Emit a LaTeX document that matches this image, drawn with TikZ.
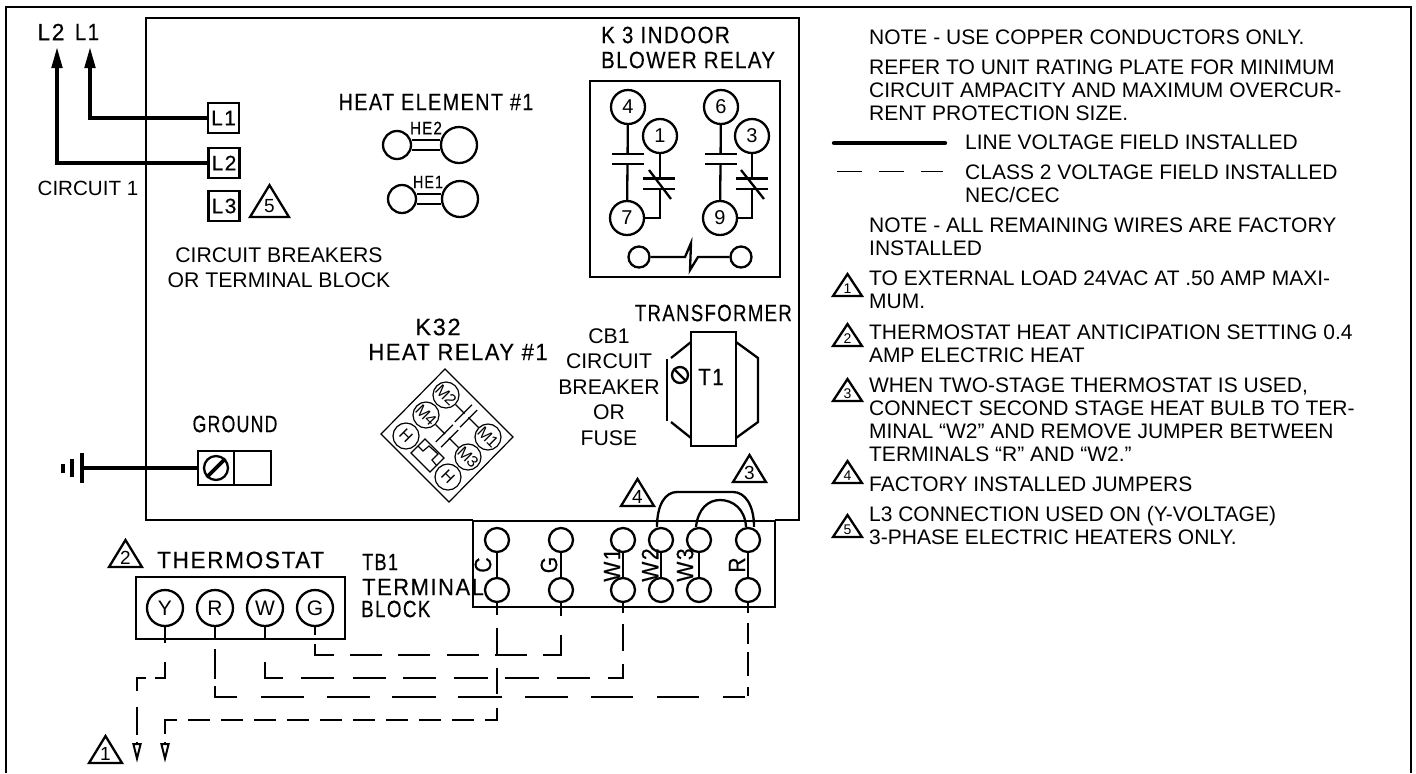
\documentclass[tikz,border=0pt]{standalone}
\usepackage{fontspec}
\setmainfont{Liberation Sans}
\newfontfamily\cadfont[LetterSpace=7,FakeBold=0.4]{Liberation Sans}
\newcommand{\cadfit}[2]{\scalebox{#1}[1]{#2}}
\usetikzlibrary{arrows.meta}
\begin{document}
\begin{tikzpicture}[
		x=0.5pt,y=-0.5pt,
		line width=1.15pt,
		notetext/.style={anchor=west,inner sep=0pt,align=left,font=\fontsize{10.5}{11.5}\selectfont},
		plaintext/.style={inner sep=0pt,align=center,font=\fontsize{10.6}{12.7}\selectfont},
		cadtext/.style={inner sep=0pt,font=\cadfont\fontsize{11.8}{12}\selectfont},
		cadsmall/.style={inner sep=0pt,font=\cadfont\fontsize{9}{10}\selectfont},
		termbox/.style={draw,minimum width=15.5pt,minimum height=15pt,inner sep=0pt,font=\cadfont\fontsize{10.5}{11}\selectfont},
		relaypin/.style={circle,draw,minimum size=17pt,inner sep=0pt,font=\fontsize{10}{11}\selectfont},
		statpin/.style={circle,draw,minimum size=18pt,inner sep=0pt,font=\fontsize{10.5}{11}\selectfont},
		blockpin/.style={circle,draw,minimum size=12pt,inner sep=0pt},
		heatpin/.style={circle,draw,inner sep=0pt},
		minipin/.style={circle,draw,line width=0.6pt,minimum size=13pt,inner sep=0pt,font=\fontsize{8}{8}\selectfont},
		contactgap/.style={fill=white,inner sep=0pt,minimum width=14.5pt,minimum height=4pt},
		minigap/.style={fill=white,inner sep=0pt,minimum width=11pt,minimum height=2.6pt,rotate=45},
		linewire/.style={line width=2.2pt},
		fieldwire/.style={line width=1.1pt},
		arrowwire/.style={linewire,-{Triangle[length=11pt,width=5pt]}},
		opentip/.style={line width=1pt,-{Triangle[open,length=10pt,width=4.6pt]}},
		notemark/.pic={
				\draw[line join=miter] (-14.5,0) -- (0,-22) -- (14.5,0) -- cycle;
				\node[inner sep=0pt,font=\fontsize{7}{8}\selectfont] (-digit) at (0,-7.5) {#1};
			},
		largemark/.pic={
				\draw[line join=miter] (-16.5,0) -- (0,-27) -- (16.5,0) -- cycle;
				\node[inner sep=0pt,font=\fontsize{9.5}{10}\selectfont] (-digit) at (0,-9.5) {#1};
			}
	]
	\useasboundingbox (0,0) rectangle (1416,773);

	\coordinate (framesw) at (6,773);
	\coordinate (framenw) at (6,7);
	\coordinate (framene) at (1411,7);
	\coordinate (framese) at (1411,773);
	\draw (framesw) -- (framenw) -- (framene) -- (framese);

	\coordinate (boardblockl) at (473,520);
	\coordinate (boardsw) at (146,520);
	\coordinate (boardnw) at (146,18);
	\coordinate (boardne) at (799,18);
	\coordinate (boardse) at (799,520);
	\coordinate (boardblockr) at (775,520);
	\draw (boardblockl) -- (boardsw) -- (boardnw) -- (boardne) -- (boardse) -- (boardblockr);

	\node[cadtext] (labeltwo) at (51,32) {\cadfit{0.96}{L2}};
	\node[cadtext] (labelone) at (87,32) {\cadfit{0.87}{L1}};
	\coordinate (tiptwo) at (57,46);
	\coordinate (tipone) at (90,46);
	\node[termbox] (brkone) at (223.5,118) {L1};
	\node[termbox] (brktwo) at (224,163) {L2};
	\node[termbox] (brkthree) at (224,206) {L3};
	\draw[arrowwire] (brkone.west) -| (tipone);
	\draw[arrowwire] (brktwo.west) -| (tiptwo);
	\pic[scale=1.18] (markfive) at (269.5,217) {largemark=5};
	\node[plaintext,font=\fontsize{10.3}{12}\selectfont] (circuit) at (88,188) {CIRCUIT 1};
	\node[plaintext] (breakers) at (279,267.5) {CIRCUIT BREAKERS\\OR TERMINAL BLOCK};

	\node[cadtext] (heatelem) at (436,102) {\cadfit{0.84}{HEAT ELEMENT \#1}};
	\node[cadsmall] (hetwolabel) at (426,128) {\cadfit{0.85}{HE2}};
	\node[heatpin,minimum size=14pt] (hetwoa) at (397,145) {};
	\node[heatpin,minimum size=18pt] (hetwob) at (459,145) {};
	\draw ([yshift=2.5pt]hetwoa.east) -- ([yshift=2.5pt]hetwob.west);
	\draw ([yshift=-2.5pt]hetwoa.east) -- ([yshift=-2.5pt]hetwob.west);
	\node[cadsmall] (heonelabel) at (428,182) {\cadfit{0.8}{HE1}};
	\node[heatpin,minimum size=14pt] (heonea) at (402,199) {};
	\node[heatpin,minimum size=18pt] (heoneb) at (460,199) {};
	\draw ([yshift=2.5pt]heonea.east) -- ([yshift=2.5pt]heoneb.west);
	\draw ([yshift=-2.5pt]heonea.east) -- ([yshift=-2.5pt]heoneb.west);

	\node[cadtext,anchor=west] (blowerone) at (600,35) {\cadfit{0.87}{K 3 INDOOR}};
	\node[cadtext,anchor=west] (blowertwo) at (600,60) {\cadfit{0.865}{BLOWER RELAY}};
	\node[draw,minimum width=95pt,minimum height=98pt,inner sep=0pt] (relaybox) at (685,179) {};
	\node[relaypin] (pinfour) at (628,107) {4};
	\node[relaypin] (pinone) at (660,136) {1};
	\node[relaypin] (pinsix) at (721,107) {6};
	\node[relaypin] (pinthree) at (752,136) {3};
	\node[relaypin] (pinseven) at (627,218) {7};
	\node[relaypin] (pinnine) at (720,218) {9};
	\draw (pinfour) -- (pinseven);
	\draw (pinsix) -- (pinnine);
	\draw (pinone) |- (pinseven);
	\draw (pinthree) |- (pinnine);
	\foreach \gapname/\gapx/\gapy in {a/628/159,b/721/159,c/659/183.5,d/752/183.5}{
			\node[contactgap] (gap\gapname) at (\gapx,\gapy) {};
			\draw (gap\gapname.north west) -- (gap\gapname.north east);
			\draw (gap\gapname.south west) -- (gap\gapname.south east);
		}
	\coordinate (slashca) at (649,170);
	\coordinate (slashcb) at (671,199);
	\coordinate (slashda) at (741,170);
	\coordinate (slashdb) at (764,199);
	\draw (slashca) -- (slashcb);
	\draw (slashda) -- (slashdb);
	\node[circle,draw,minimum size=10.5pt,inner sep=0pt] (coilleft) at (639,257) {};
	\node[circle,draw,minimum size=10.5pt,inner sep=0pt] (coilright) at (741,257) {};
	\coordinate (coila) at (685,257);
	\coordinate (coilb) at (691,243);
	\coordinate (coilc) at (690,270);
	\coordinate (coild) at (698,257);
	\draw (coilleft) -- (coila) -- (coilb) -- (coilc) -- (coild) -- (coilright);

	\node[cadtext,anchor=east] (transformer) at (793,313) {\cadfit{0.79}{TRANSFORMER}};
	\node[plaintext] (cbone) at (609,387) {CB1\\CIRCUIT\\BREAKER\\OR\\FUSE};
	\node[draw,minimum width=22.5pt,minimum height=57pt,inner sep=0pt] (coretone) at (713.5,389) {};
	\node[cadtext] (tonelabel) at (711,377) {\cadfit{0.87}{T1}};
	\node[circle,draw,minimum size=8pt,inner sep=0pt] (corescrew) at (680,375) {};
	\draw (corescrew.135) -- (corescrew.-45);
	\coordinate (wingla) at (671,358);
	\coordinate (winglb) at (671,422);
	\coordinate (wingpa) at (667,359);
	\coordinate (wingpb) at (667,421);
	\coordinate (wingra) at (758,358);
	\coordinate (wingrb) at (758,422);
	\coordinate (corelt) at (691,342);
	\coordinate (corelb) at (691,438);
	\coordinate (corert) at (736,342);
	\coordinate (corerb) at (736,438);
	\draw (corelt) -- (wingla);
	\draw (wingpa) -- (wingpb);
	\draw (winglb) -- (corelb);
	\draw (corert) -- (wingra) -- (wingrb) -- (corerb);

	\node[cadtext] (kthirtytwo) at (438,327) {K32};
	\node[cadtext] (heatrelay) at (458,352) {\cadfit{0.93}{HEAT RELAY \#1}};
	\coordinate (diamondn) at (445,369);
	\coordinate (diamonde) at (513,437);
	\coordinate (diamonds) at (449,502);
	\coordinate (diamondw) at (381,434);
	\draw[line width=0.6pt] (diamondn) -- (diamonde) -- (diamonds) -- (diamondw) -- cycle;
	\node[minipin,rotate=-45] (mtwo) at (446,395) {M2};
	\node[minipin,rotate=-45] (mfour) at (426,415) {M4};
	\node[minipin,rotate=-45] (hone) at (406,436) {H};
	\node[minipin,rotate=-45] (mone) at (488,437) {M1};
	\node[minipin,rotate=-45] (mthree) at (468,457) {M3};
	\node[minipin,rotate=-45] (htwo) at (448,477) {H};
	\draw[line width=0.6pt] (mtwo) -- (mone);
	\draw[line width=0.6pt] (mfour) -- (mthree);
	\foreach \gapname/\gapx/\gapy in {e/466/416,f/447/436}{
			\node[minigap] (gap\gapname) at (\gapx,\gapy) {};
			\draw[line width=0.6pt] (gap\gapname.north west) -- (gap\gapname.north east);
			\draw[line width=0.6pt] (gap\gapname.south west) -- (gap\gapname.south east);
		}
	\coordinate (loopa) at (418,446);
	\coordinate (loopb) at (411,453);
	\coordinate (loopc) at (430,472);
	\coordinate (loopd) at (444,458);
	\coordinate (loope) at (425,439);
	\coordinate (loopf) at (423,451);
	\coordinate (loopg) at (429,446);
	\coordinate (looph) at (438,454);
	\coordinate (loopi) at (432,460);
	\coordinate (loopj) at (437,466);
	\draw[line width=0.6pt] (loopa) -- (loopb) -- (loopc) -- (loopd) -- (loope) -- (loopa);
	\draw[line width=0.6pt] (loopa) -- (loopf) -- (loopg) -- (looph) -- (loopi) -- (loopj);

	\pic (markfour) at (637.5,506) {largemark=4};
	\pic (markthree) at (749.5,482) {largemark=3};

	\node[cadtext] (ground) at (235,424) {\cadfit{0.75}{GROUND}};
	\node[draw,minimum width=18pt,minimum height=17pt,inner sep=0pt] (gndscrew) at (216,468) {};
	\node[draw,minimum width=18.5pt,minimum height=17pt,inner sep=0pt] (gndopen) at (252.5,468) {};
	\node[circle,draw,minimum size=12pt,inner sep=0pt] (gndcircle) at (216,468) {};
	\draw[line width=1.8pt] (gndcircle.225) -- (gndcircle.45);
	\coordinate (gndbar) at (82,468);
	\draw[linewire] (gndscrew.west) -- (gndbar);
	\coordinate (baratop) at (82,453);
	\coordinate (barabot) at (82,483);
	\coordinate (barbtop) at (72,459);
	\coordinate (barbbot) at (72,477);
	\coordinate (barctop) at (63,464);
	\coordinate (barcbot) at (63,473);
	\draw[linewire] (baratop) -- (barabot);
	\draw[linewire] (barbtop) -- (barbbot);
	\draw[linewire] (barctop) -- (barcbot);

	\pic (marktwo) at (125.5,567) {largemark=2};
	\node[cadtext,anchor=west] (thermostat) at (156,560) {\cadfit{0.96}{THERMOSTAT}};
	\node[draw,minimum width=104.5pt,minimum height=31pt,inner sep=0pt] (statbox) at (240.5,608) {};
	\node[statpin] (staty) at (165,608) {Y};
	\node[statpin] (statr) at (215,608) {R};
	\node[statpin] (statw) at (265,608) {W};
	\node[statpin] (statg) at (315,608) {G};
	\node[cadtext,anchor=west] (tbone) at (361,562) {\cadfit{0.77}{TB1}};
	\node[cadtext,anchor=west] (terminal) at (361,587) {\cadfit{0.93}{TERMINAL}};
	\node[cadtext,anchor=west] (block) at (360,609) {\cadfit{0.8}{BLOCK}};

	\node[draw,minimum width=151pt,minimum height=43pt,inner sep=0pt] (blockbox) at (624,564) {};
	\foreach \pinname/\pinx/\labelx/\labeltext in {c/497/483/C,g/561/549/G,wone/623/612/W1,wtwo/661/650/W2,wthree/699/685/W3,r/748/737/R}{
			\node[blockpin] (tb\pinname a) at (\pinx,540) {};
			\node[blockpin] (tb\pinname b) at (\pinx,590) {};
			\draw (tb\pinname a) -- (tb\pinname b);
			\node[cadtext,rotate=90] (tb\pinname label) at (\labelx,565) {\cadfit{0.9}{\labeltext}};
		}
	\draw ([xshift=-2pt]tbwtwoa.north) .. controls (657,505) and (665,492) .. (677,492) -- (733,492) .. controls (745,492) and (754,505) .. ([xshift=3pt]tbra.north);
	\draw ([xshift=-1.5pt]tbwthreea.north) .. controls (698,509) and (708,500) .. (720,500) .. controls (733,500) and (745,509) .. ([xshift=-1pt]tbra.north);

	\coordinate (wireyb) at (137,678);
	\coordinate (wireyc) at (137,735);
	\coordinate (headya) at (137,742);
	\coordinate (headyb) at (137,763);
	\coordinate (wirecb) at (165,720);
	\coordinate (wirecc) at (165,735);
	\coordinate (headca) at (165,742);
	\coordinate (headcb) at (165,763);
	\coordinate (wiregb) at (315,655);
	\coordinate (wirewb) at (265,678);
	\coordinate (wirerb) at (215,697);
	\draw[fieldwire,dash pattern=on 8pt off 9.5pt on 13pt off 4.5pt on 11pt off 8pt on 14.5pt off 20pt] (staty.south) |- (wireyb) -- (wireyc);
	\draw[fieldwire,dash pattern=on 4pt off 4.5pt on 15pt off 8pt on 16pt off 8pt on 16pt off 8.5pt on 16pt off 8pt on 16pt off 8pt on 19pt off 9.5pt on 8pt off 50pt] (statg.south) -- (wiregb) -| (tbgb.south);
	\draw[fieldwire,dash pattern=on 6pt off 11.5pt on 17pt off 9pt on 16.5pt off 9.5pt on 16.5pt off 8.5pt on 16.5pt off 9pt on 17pt off 8.5pt on 17pt off 9pt on 16.5pt off 9pt on 14.5pt off 6.5pt on 13.5pt off 5.5pt on 6pt off 50pt] (statw.south) -- (wirewb) -| (tbwoneb.south);
	\draw[fieldwire,dash pattern=on 5.5pt off 5.5pt on 15pt off 3.5pt on 16.5pt off 12pt on 21.5pt off 11.5pt on 21.5pt off 11pt on 22pt off 11pt on 22pt off 11.5pt on 21.5pt off 11.5pt on 21pt off 12pt on 21pt off 12pt on 11pt off 2pt on 4.5pt off 5.5pt on 12pt off 4pt on 10.5pt off 5pt on 5.5pt off 50pt] (statr.south) -- (wirerb) -| (tbrb.south);
	\draw[fieldwire,dash pattern=on 6pt off 6.5pt on 14pt off 6pt on 13pt off 7pt on 12pt off 5.5pt on 11pt off 5.5pt on 11pt off 5.5pt on 11pt off 5.5pt on 11pt off 5.5pt on 11pt off 5.5pt on 11pt off 5.5pt on 11pt off 5.5pt on 11pt off 5.5pt on 11pt off 5.5pt on 13pt off 50pt] (tbcb.south) |- (wirecb) -- (wirecc);
	\draw[opentip] (headya) -- (headyb);
	\draw[opentip] (headca) -- (headcb);
	\pic (markone) at (105.5,763) {largemark=1};

	\node[notetext] (notecopper) at (868,37) {NOTE - USE COPPER CONDUCTORS ONLY.};
	\node[notetext] (noterating) at (868,90) {REFER TO UNIT RATING PLATE FOR MINIMUM\\CIRCUIT AMPACITY AND MAXIMUM OVERCUR-\\RENT PROTECTION SIZE.};
	\node[notetext] (legendline) at (964,142) {LINE VOLTAGE FIELD INSTALLED};
	\node[notetext] (legendclass) at (964,183.5) {CLASS 2 VOLTAGE FIELD INSTALLED\\NEC/CEC};
	\node[notetext] (noteremain) at (868,236.5) {NOTE - ALL REMAINING WIRES ARE FACTORY\\INSTALLED};
	\node[notetext] (noteone) at (868,289.5) {TO EXTERNAL LOAD 24VAC AT .50 AMP MAXI-\\MUM.};
	\node[notetext] (notetwo) at (868,343.5) {THERMOSTAT HEAT ANTICIPATION SETTING 0.4\\AMP ELECTRIC HEAT};
	\node[notetext] (notethree) at (868,419.5) {WHEN TWO-STAGE THERMOSTAT IS USED,\\CONNECT SECOND STAGE HEAT BULB TO TER-\\MINAL “W2” AND REMOVE JUMPER BETWEEN\\TERMINALS “R” AND “W2.”};
	\node[notetext] (notefour) at (868,484) {FACTORY INSTALLED JUMPERS};
	\node[notetext] (notefive) at (868,525.5) {L3 CONNECTION USED ON (Y-VOLTAGE)\\3-PHASE ELECTRIC HEATERS ONLY.};
	\coordinate (solidstart) at (834,143);
	\coordinate (solidend) at (945,143);
	\draw[linewire,line cap=round] (solidstart) -- (solidend);
	\coordinate (dashstart) at (837,171);
	\coordinate (dashend) at (943,171);
	\draw[line width=0.5pt,dash pattern=on 12.5pt off 8.5pt] (dashstart) -- (dashend);
	\pic (legendone) at (847.5,296) {notemark=1};
	\pic (legendtwo) at (847.5,346) {notemark=2};
	\pic (legendthree) at (847.5,401) {notemark=3};
	\pic (legendfour) at (847.5,483) {notemark=4};
	\pic (legendfive) at (847.5,537) {notemark=5};
\end{tikzpicture}
\end{document}
